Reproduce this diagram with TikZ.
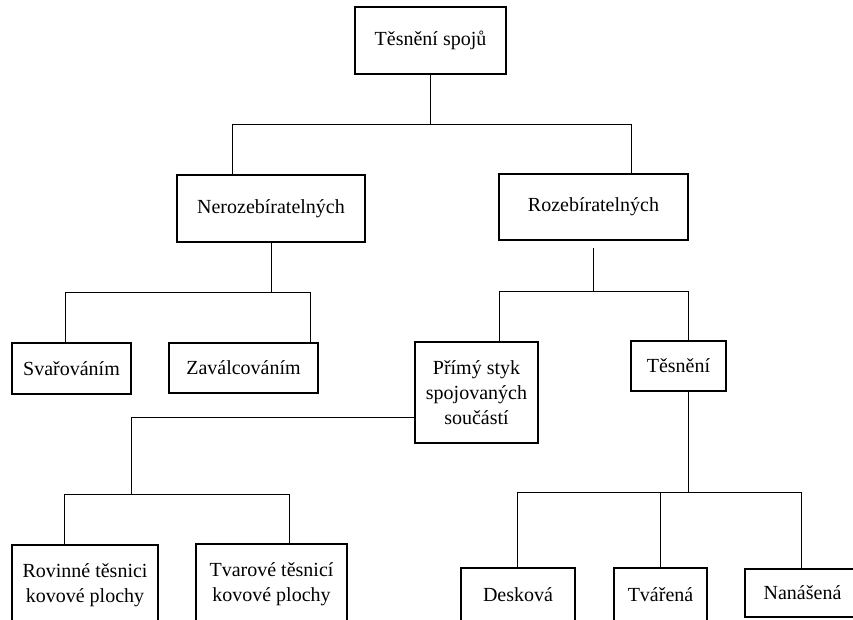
\documentclass[tikz,border=0pt]{standalone}
\usepackage{fontspec}
\setmainfont{Liberation Serif}
\usepackage{tikz}
\usetikzlibrary{positioning,calc}

\begin{document}
\begin{tikzpicture}[x=1pt, y=-1pt,
    box/.style={rectangle, draw, line width=1.2pt, align=center, inner sep=0pt, font=\fontsize{20}{25}\selectfont},
    conn/.style={draw, line width=0.9pt}]

    \useasboundingbox (0,0) rectangle (853,619);
    \clip (0,0) rectangle (853,619);

    % Level 1
    \node [box, minimum width=151pt, minimum height=67pt] (top) at (430.5,40.5) {Těsnění spojů};

    % Level 2
    \node [box, minimum width=188pt, minimum height=67pt] (nero) at (271,208.5) {Nerozebíratelných};
    \node [box, minimum width=189pt, minimum height=66pt] (roze) at (593.5,207) {Rozebíratelných};

    % Level 3
    \node [box, minimum width=119pt, minimum height=51pt] (svar) at (71.5,368.5) {Svařováním};
    \node [box, minimum width=149pt, minimum height=50pt] (zaval) at (243.5,368) {Zaválcováním};
    \node [box, minimum width=123pt, minimum height=101pt] (primy) at (476.5,392.5) {Přímý styk\\spojovaných\\součástí};
    \node [box, minimum width=95pt, minimum height=50pt] (tesn) at (678.5,366) {Těsnění};

    % Level 4 (cut by the lower edge)
    \node [box, minimum width=146pt, minimum height=80pt] (rovin) at (85,585) {Rovinné těsnici\\kovové plochy};
    \node [box, minimum width=151pt, minimum height=80pt] (tvar) at (271.5,584) {Tvarové těsnicí\\kovové plochy};
    \node [box, minimum width=114pt, minimum height=54pt] (desk) at (518,595) {Desková};
    \node [box, minimum width=93pt, minimum height=54pt] (tvaren) at (660.5,595) {Tvářená};
    \node [box, minimum width=115pt, minimum height=48pt] (nanas) at (802.5,593) {Nanášená};

    % Bus ends
    \coordinate (b1l) at (232,124);
    \coordinate (b1r) at (631,124);
    \coordinate (b2l) at (65,292);
    \coordinate (b2r) at (310,292);
    \coordinate (b3l) at (499,291);
    \coordinate (b3r) at (688,291);
    \coordinate (b4) at (131,417);
    \coordinate (b5l) at (64,494);
    \coordinate (b5r) at (289,494);
    \coordinate (b6l) at (517,492);
    \coordinate (b6r) at (801,492);

    % Connectors
    \draw [conn] (top.south) -- (top.south |- b1l);
    \draw [conn] (nero.north -| b1l) |- (b1r) -- (roze.north -| b1r);

    \draw [conn] (nero.south) -- (nero.south |- b2l);
    \draw [conn] (svar.north -| b2l) |- (b2r) -- (zaval.north -| b2r);

    \draw [conn, shorten <=7pt] (roze.south) -- (roze.south |- b3l);
    \draw [conn] (primy.north -| b3l) |- (b3r) -- (tesn.north -| b3r);

    \draw [conn] (primy.west |- b4) -- (b4) -- (b4 |- b5l);
    \draw [conn] (rovin.north -| b5l) |- (b5r) -- (tvar.north -| b5r);

    \draw [conn] (tesn.south -| b3r) -- (b3r |- b6l);
    \draw [conn] (desk.north -| b6l) |- (b6r) -- (nanas.north -| b6r);
    \draw [conn] (tvaren.north) -- (tvaren.north |- b6l);
\end{tikzpicture}
\end{document}
